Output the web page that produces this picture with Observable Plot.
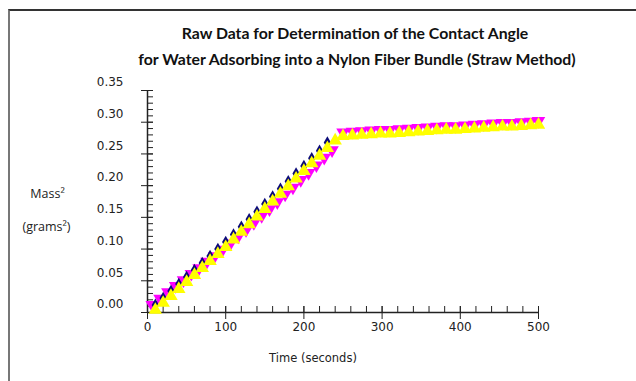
<!DOCTYPE html>
<html><head><meta charset="utf-8">
<script src="https://cdn.jsdelivr.net/npm/d3@7"></script>
<script src="https://cdn.jsdelivr.net/npm/@observablehq/plot@0.6"></script>
<style>
body{margin:0;background:#fff;}
#wrap{position:relative;width:636px;height:381px;overflow:hidden;}
#border{position:absolute;left:8px;top:9px;width:640px;height:400px;border-top:2px solid #333;border-left:2px solid #777;pointer-events:none;}
</style></head>
<body><div id="wrap"><div id="chart"></div><div id="border"></div></div>
<script>
const titleLines = ["Raw Data for Determination of the Contact Angle", "for Water Adsorbing into a Nylon Fiber Bundle (Straw Method)"];
const xLabel = "Time (seconds)";
const yLabelLines = ["Mass\u00b2", "(grams\u00b2)"];
const xTicks = [0, 100, 200, 300, 400, 500];
const yTicks = [0, 0.05, 0.10, 0.15, 0.20, 0.25, 0.30, 0.35];

const navyT = [10,20,30,40,50,60,70,80,90,100,110,120,130,140,150,160,170,180,190,200,210,220,230];
const navyV = [0.012,0.023,0.034,0.045,0.056,0.067,0.078,0.089,0.100,0.111,0.123,0.135,0.147,0.159,0.171,0.183,0.195,0.207,0.219,0.231,0.243,0.255,0.268];

const magentaT = [6,16,26,36,46,56,66,76,86,96,106,116,126,136,146,156,166,176,186,196,206,216,226,236,
  250,262,274,286,298,310,322,334,346,358,370,382,394,406,418,430,442,454,466,478,490,500];
const magentaV = [0.012,0.022,0.032,0.042,0.051,0.061,0.070,0.080,0.089,0.099,0.109,0.120,0.130,0.141,0.152,0.163,0.174,0.186,0.197,0.209,0.220,0.232,0.244,0.256,
  0.284,0.285,0.286,0.287,0.288,0.288,0.289,0.290,0.291,0.292,0.293,0.294,0.294,0.295,0.296,0.297,0.298,0.299,0.299,0.300,0.301,0.302];

const yellowT = [10,20,30,40,50,60,70,80,90,100,110,120,130,140,150,160,170,180,190,200,210,220,230,240,
  250,262,274,286,298,310,322,334,346,358,370,382,394,406,418,430,442,454,466,478,490,500];
const yellowV = [0.004,0.015,0.026,0.037,0.048,0.059,0.070,0.081,0.092,0.103,0.115,0.127,0.139,0.151,0.163,0.175,0.187,0.199,0.211,0.223,0.235,0.247,0.259,0.271,
  0.278,0.279,0.280,0.281,0.282,0.282,0.283,0.284,0.285,0.286,0.287,0.288,0.288,0.289,0.290,0.291,0.292,0.293,0.293,0.294,0.295,0.296];

const navy = navyT.map((t,i)=>({t, v: navyV[i]}));
const magenta = magentaT.map((t,i)=>({t, v: magentaV[i]}));
const yellow = yellowT.map((t,i)=>({t, v: yellowV[i]}));

const xMinor = d3.range(0, 501, 20);
const yMinor = d3.range(0, 0.3501, 0.01);

const triDown = {draw(ctx, size){
  const y = -Math.sqrt(size / (Math.sqrt(3) * 3));
  ctx.moveTo(0, -y * 2);
  ctx.lineTo(-Math.sqrt(3) * y, y);
  ctx.lineTo(Math.sqrt(3) * y, y);
  ctx.closePath();
}};

const tickFont = "DejaVu Sans, sans-serif";
const labFont = "Lato, sans-serif";

const chart = Plot.plot({
  width: 636, height: 381,
  marginLeft: 147, marginRight: 98, marginTop: 90, marginBottom: 69,
  style: {background: "#fff", overflow: "visible"},
  x: {domain: [0, 500]},
  y: {domain: [0, 0.35]},
  marks: [
    Plot.axisX({ticks: xMinor, tickSize: 6, dy: -6, tickFormat: () => "", label: null, stroke: "#222"}),
    Plot.axisY({ticks: yMinor, tickSize: 6, dx: 6, tickFormat: () => "", label: null, stroke: "#222"}),
    Plot.axisX({ticks: xTicks, tickSize: 13, dy: -6, tickFormat: () => "", label: null, stroke: "#222"}),
    Plot.axisY({ticks: yTicks, tickSize: 12, dx: 6, tickFormat: () => "", label: null, stroke: "#222"}),
    Plot.axisX({ticks: xTicks, tickSize: 0, tickPadding: 10, tickFormat: d3.format("d"), label: null, fontSize: 12, fontFamily: tickFont, fill: "#222"}),
    Plot.axisY({ticks: yTicks, tickSize: 0, tickPadding: 24, dy: -8, tickFormat: d3.format(".2f"), label: null, fontSize: 12, fontFamily: tickFont, fill: "#222"}),
    Plot.ruleX([0], {stroke: "#222", strokeWidth: 1.5}),
    Plot.ruleY([0], {stroke: "#222", strokeWidth: 1.5}),
    Plot.dot(magenta, {x: "t", y: "v", symbol: triDown, r: 5, fill: "#ff00ff"}),
    Plot.dot(navy, {x: "t", y: "v", symbol: "diamond", r: 3.8, fill: "#0b0b78"}),
    Plot.dot(yellow, {x: "t", y: "v", symbol: "triangle", r: 5, fill: "#ffff00"}),
    Plot.text([titleLines[0]], {frameAnchor: "top", dx: 12, dy: -63, text: d => d, fontSize: 15.8, fontWeight: "bold", fontFamily: labFont, fill: "#111"}),
    Plot.text([titleLines[1]], {frameAnchor: "top", dx: 14, dy: -37, text: d => d, fontSize: 15.8, fontWeight: "bold", fontFamily: labFont, fill: "#111"}),
    Plot.text([xLabel], {frameAnchor: "bottom", dx: -30, dy: 49, text: d => d, fontSize: 11.5, fontFamily: tickFont, fill: "#222"}),
    Plot.text([yLabelLines[0]], {frameAnchor: "top-left", textAnchor: "middle", dx: -100, dy: 99, text: d => d, fontSize: 12.5, fontFamily: "Open Sans, sans-serif", fill: "#222"}),
    Plot.text([yLabelLines[1]], {frameAnchor: "top-left", textAnchor: "middle", dx: -101, dy: 132, text: d => d, fontSize: 12.5, fontFamily: "Open Sans, sans-serif", fill: "#222"})
  ]
});
document.getElementById("chart").appendChild(chart);
</script>
</body></html>
